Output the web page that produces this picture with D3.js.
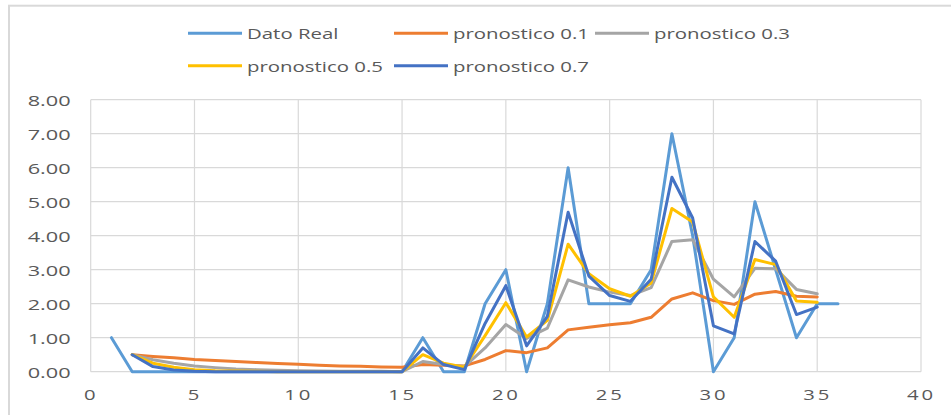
<!DOCTYPE html>
<html><head><meta charset="utf-8">
<script src="https://cdn.jsdelivr.net/npm/d3@7"></script>
<style>
html,body{margin:0;padding:0;background:#fff;overflow:hidden;}
text{font-family:"Open Sans","Noto Sans",sans-serif;fill:#595959;}
</style></head>
<body><svg id="c" width="951" height="415"></svg>
<script>
const seriesNames = ["Dato Real","pronostico 0.1","pronostico 0.3","pronostico 0.5","pronostico 0.7"];
const seriesColors = ["#5B9BD5","#ED7D31","#A5A5A5","#FFC000","#4472C4"];
const realX = d3.range(1, 37);
const realValues = [1,0,0,0,0,0,0,0,0,0,0,0,0,0,0,1,0,0,2,3,0,2,6,2,2,2,3,7,4,0,1,5,3,1,2,2];
const forecastX = d3.range(2, 36);
const p01 = [0.50,0.45,0.41,0.36,0.33,0.30,0.27,0.24,0.22,0.19,0.17,0.16,0.14,0.13,
             0.21,0.19,0.17,0.36,0.62,0.56,0.70,1.23,1.31,1.38,1.44,1.60,2.14,2.32,2.09,1.98,2.28,2.36,2.22,2.20];
const p03 = [0.50,0.35,0.25,0.17,0.12,0.08,0.06,0.04,0.03,0.02,0.01,0.01,0.01,0.00,
             0.30,0.21,0.15,0.70,1.39,0.98,1.28,2.70,2.49,2.34,2.24,2.47,3.83,3.88,2.72,2.20,3.04,3.03,2.42,2.29];
const p05 = [0.50,0.25,0.13,0.06,0.03,0.02,0.01,0.00,0.00,0.00,0.00,0.00,0.00,0.00,
             0.50,0.25,0.13,1.06,2.03,1.02,1.51,3.75,2.88,2.44,2.22,2.61,4.80,4.40,2.20,1.60,3.30,3.15,2.08,2.04];
const p07 = [0.50,0.15,0.05,0.01,0.00,0.00,0.00,0.00,0.00,0.00,0.00,0.00,0.00,0.00,
             0.70,0.21,0.06,1.42,2.53,0.76,1.63,4.69,2.81,2.24,2.07,2.72,5.72,4.52,1.35,1.11,3.83,3.25,1.68,1.90];
const xTicks = [0,5,10,15,20,25,30,35,40];
const yTicks = [0,1,2,3,4,5,6,7,8];

const svg = d3.select("#c");
const L = 90.7, R = 921, T = 99.7, B = 371.7;
const x = d3.scaleLinear().domain([0,40]).range([L,R]);
const y = d3.scaleLinear().domain([0,8]).range([B,T]);

// chart border
svg.append("rect").attr("x",9).attr("y",5.7).attr("width",1000).attr("height",500)
  .attr("fill","none").attr("stroke","#d9d9d9").attr("stroke-width",2);

// gridlines
const g = svg.append("g");
g.selectAll(".hg").data(yTicks).join("line")
  .attr("x1",L).attr("x2",R).attr("y1",d=>y(d)).attr("y2",d=>y(d))
  .attr("stroke","#d9d9d9").attr("stroke-width",1.2);
g.selectAll(".vg").data(xTicks).join("line")
  .attr("y1",T).attr("y2",B).attr("x1",d=>x(d)).attr("x2",d=>x(d))
  .attr("stroke","#d9d9d9").attr("stroke-width",1.2);

// axes labels (via d3 axes, then styled)
const yAxis = svg.append("g").attr("transform",`translate(${L-20},0)`)
  .call(d3.axisLeft(y).tickValues(yTicks).tickFormat(d3.format(".2f")).tickSize(0).tickPadding(0));
yAxis.select(".domain").remove();
yAxis.selectAll("text").each(function(){
  const t = d3.select(this);
  const ty = t.attr("y");
  t.attr("x",0).attr("y",0).attr("dy",null).attr("dominant-baseline","central")
   .attr("text-anchor","end").style("font-size","14.5px").style("font-family",'"Open Sans","Noto Sans",sans-serif')
   .attr("fill","#595959").attr("transform","scale(1.5,1)");
});

const xAxis = svg.append("g").attr("transform",`translate(0,394.5)`)
  .call(d3.axisBottom(x).tickValues(xTicks).tickFormat(d3.format("d")).tickSize(0).tickPadding(0));
xAxis.select(".domain").remove();
xAxis.selectAll("text").each(function(){
  d3.select(this).attr("y",0).attr("dy",null).attr("dominant-baseline","central")
   .attr("text-anchor","middle").style("font-size","14.5px").style("font-family",'"Open Sans","Noto Sans",sans-serif')
   .style("letter-spacing","2px").attr("fill","#595959").attr("transform","scale(1.4,1)");
});

// lines
const series = [
  realX.map((d,i)=>[d,realValues[i]]),
  forecastX.map((d,i)=>[d,p01[i]]),
  forecastX.map((d,i)=>[d,p03[i]]),
  forecastX.map((d,i)=>[d,p05[i]]),
  forecastX.map((d,i)=>[d,p07[i]])
];
const line = d3.line().x(d=>x(d[0])).y(d=>y(d[1]));
svg.append("g").selectAll("path").data(series).join("path")
  .attr("d",line).attr("fill","none")
  .attr("stroke",(d,i)=>seriesColors[i]).attr("stroke-width",3)
  .attr("stroke-linejoin","round").attr("stroke-linecap","round");

// legend
const legendPos = [[188,33.3],[394,33.3],[595,33.3],[188,65.7],[394,65.7]];
const lg = svg.append("g");
seriesNames.forEach((name,i)=>{
  const [lx,ly] = legendPos[i];
  lg.append("line").attr("x1",lx).attr("x2",lx+54).attr("y1",ly).attr("y2",ly)
    .attr("stroke",seriesColors[i]).attr("stroke-width",3);
  lg.append("text").attr("transform",`translate(${lx+59},${ly}) scale(1.36,1)`)
    .attr("dominant-baseline","central").style("font-size","15px").text(name);
});
</script></body></html>
